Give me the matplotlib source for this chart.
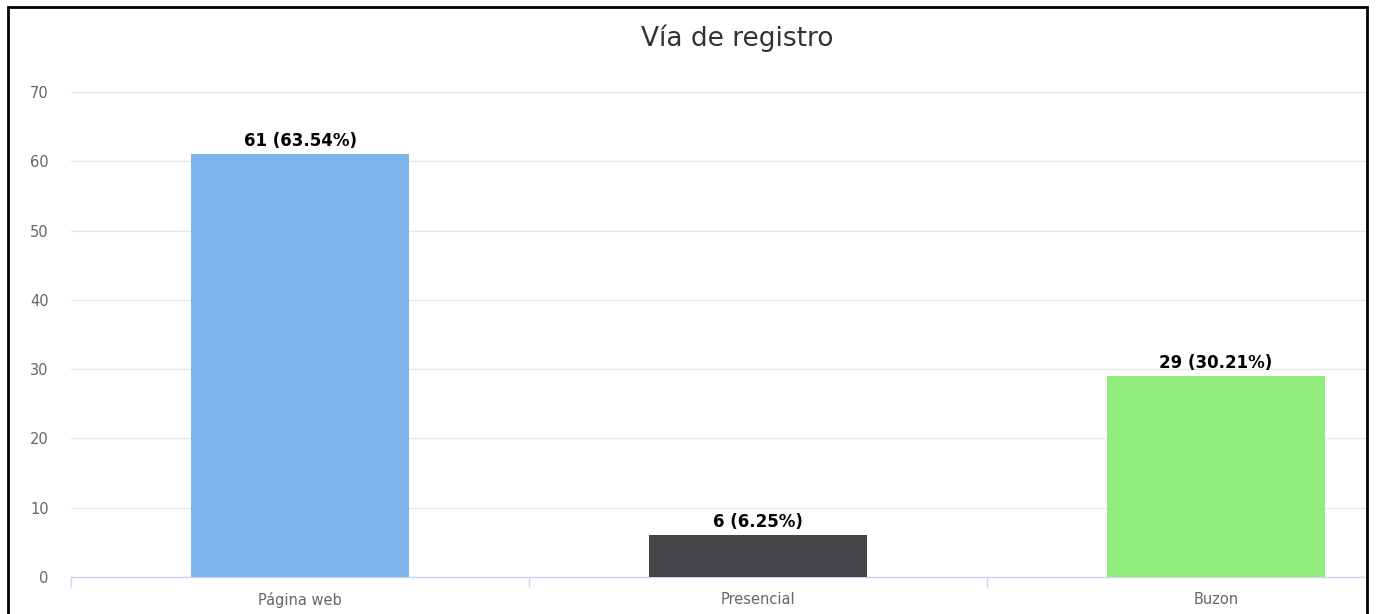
import matplotlib.pyplot as plt
from matplotlib.patches import Rectangle

categories = ['Página web', 'Presencial', 'Buzon']
counts = [61, 6, 29]
percents = [63.54, 6.25, 30.21]
bar_colors = ['#7cb5ec', '#434348', '#90ed7d']
y_ticks = [0, 10, 20, 30, 40, 50, 60, 70]

W, H = 1376, 614
fig = plt.figure(figsize=(W / 100, H / 100), dpi=100)

# plot area is cut off at the right frame (screenshot is cropped)
cat_px = 458  # pixels per category
ax = fig.add_axes([71 / W, 37 / H, (1366 - 71) / W, 485 / H])

x = list(range(len(categories)))
ax.bar(x, counts, width=0.478, color=bar_colors, zorder=3)

# data labels
for xi, c, p in zip(x, counts, percents):
    ax.annotate(f'{c} ({p:.2f}%)', (xi, c), xytext=(0, 3), textcoords='offset points',
                ha='center', va='bottom', fontsize=12, fontweight='bold', color='#000000', zorder=4)

ax.set_xlim(-0.5, -0.5 + (1366 - 71) / cat_px)
ax.set_ylim(0, 70)
ax.set_yticks(y_ticks)
ax.set_yticklabels([str(v) for v in y_ticks])
ax.grid(axis='y', color='#e6e6e6', linewidth=1, zorder=0)
ax.set_axisbelow(True)

ax.set_xticks(x)
ax.set_xticklabels(categories)
ax.set_xticks([-0.5, 0.5, 1.5], minor=True)
ax.tick_params(axis='x', which='major', length=0, pad=11, labelsize=10.5, labelcolor='#666666')
ax.tick_params(axis='x', which='minor', length=7, width=1, color='#ccd6eb')
ax.tick_params(axis='y', length=0, pad=16, labelsize=10.5, labelcolor='#666666')

for s in ['top', 'right', 'left']:
    ax.spines[s].set_visible(False)
ax.spines['bottom'].set_color('#ccd6eb')
ax.spines['bottom'].set_linewidth(1)

fig.text(737 / W, 1 - 38 / H, 'Vía de registro', ha='center', va='center',
         fontsize=19, color='#333333')

# black frame of the screenshot
fig.add_artist(Rectangle((8 / W, -0.05), (1367 - 8) / W, (H - 7) / H + 0.05,
                         transform=fig.transFigure, fill=False, edgecolor='black',
                         linewidth=2, zorder=10))

fig.savefig('out.png', dpi=100)
